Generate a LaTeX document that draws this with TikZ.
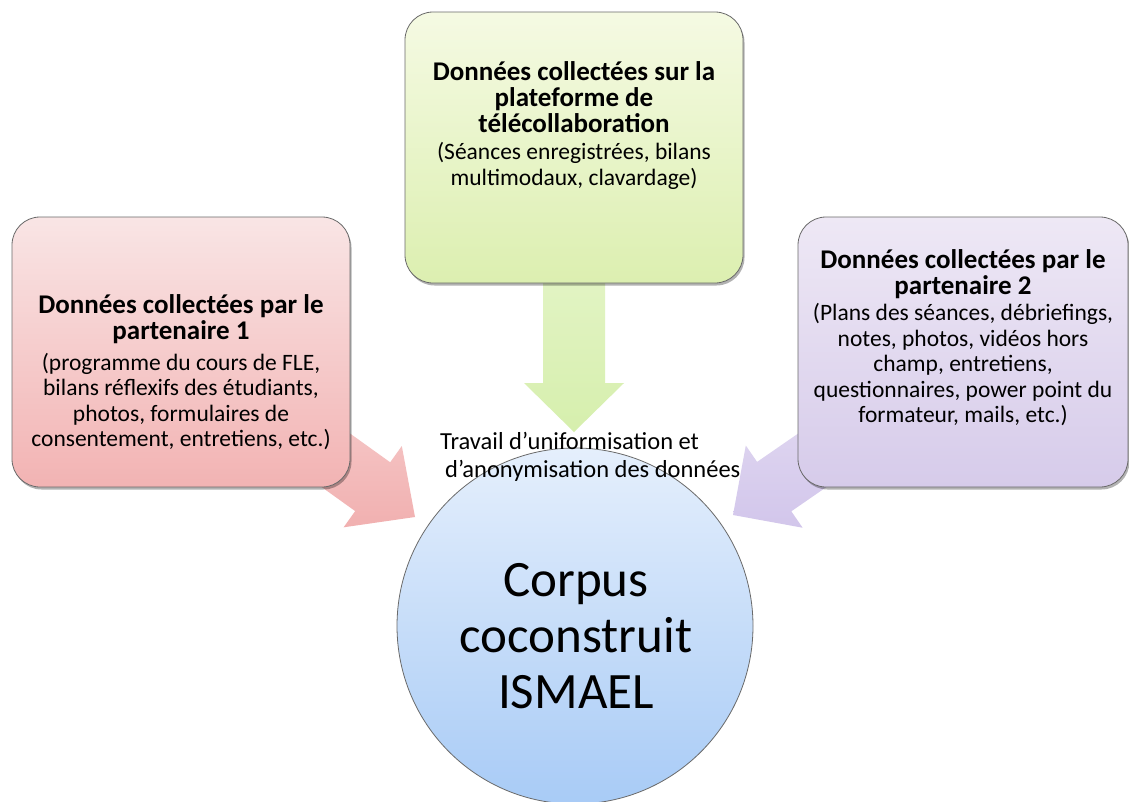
\documentclass[tikz,border=0pt]{standalone}
\usepackage{fontspec}
\setmainfont{Carlito}
\usetikzlibrary{shadows}
\definecolor{redTop}{HTML}{F9E5E5}
\definecolor{redBot}{HTML}{F2B3B3}
\definecolor{redArrTop}{HTML}{F7CFCF}
\definecolor{redArrBot}{HTML}{F1B0B0}
\definecolor{grnTop}{HTML}{F5FAE3}
\definecolor{grnBot}{HTML}{DCEFB0}
\definecolor{grnArrTop}{HTML}{E8F6CF}
\definecolor{grnArrBot}{HTML}{D6EFAD}
\definecolor{purTop}{HTML}{EEE8F5}
\definecolor{purBot}{HTML}{D6CBEA}
\definecolor{purArrTop}{HTML}{E4DCF2}
\definecolor{purArrBot}{HTML}{D2C6EB}
\definecolor{cirTop}{HTML}{E5EFFC}
\definecolor{cirBot}{HTML}{A8CBF6}
\definecolor{edge}{HTML}{6A6A6A}
\tikzset{
  box/.style={draw=edge, line width=0.8pt, rounded corners=28pt, inner sep=0pt, outer sep=0pt,
    drop shadow={shadow xshift=1.5pt, shadow yshift=-2.5pt, opacity=0.3, fill=black}},
  ttl/.style={inner sep=0pt, align=center, font=\bfseries\fontsize{27}{26}\selectfont},
  body/.style={inner sep=0pt, align=center, font=\fontsize{23.5}{25.5}\selectfont},
}
\begin{document}
\begin{tikzpicture}[x=1pt, y=-1pt]
\useasboundingbox (0,0) rectangle (1129,801);
\fill[white] (0,0) rectangle (1129,801);
% block arrows
\shade[top color=redArrTop, bottom color=redArrBot]
  (268.2,374.8) -- (390.2,462.3) -- (401.8,446.0) -- (415,517) -- (343.6,527.3)
  -- (355.2,511.1) -- (233.2,423.6) -- cycle;
\shade[top color=purArrTop, bottom color=purArrBot]
  (880.5,376.6) -- (757.1,461.9) -- (745.8,445.5) -- (733,515) -- (802.6,527.7)
  -- (791.3,511.3) -- (914.7,426.0) -- cycle;
\shade[top color=grnArrTop, bottom color=grnArrBot]
  (543,200) -- (543,383) -- (524,383) -- (574,432) -- (624,383) -- (605,383) -- (605,200) -- cycle;
% boxes
\node[box, minimum width=338pt, minimum height=270pt, top color=redTop, bottom color=redBot] (p1) at (181,352) {};
\node[box, minimum width=338pt, minimum height=271pt, top color=grnTop, bottom color=grnBot] (pf) at (574,147.5) {};
\node[box, minimum width=330pt, minimum height=270pt, top color=purTop, bottom color=purBot] (p2) at (963,352) {};
% circle
\node[circle, draw=edge, line width=0.8pt, minimum size=356pt, inner sep=0pt,
  top color=cirTop, bottom color=cirBot] (corpus) at (575,626) {};
% texts
\node[ttl] (p1t) at (181,319.5) {Données collectées par le\\partenaire 1};
\node[body] (p1b) at (181,401.5) {(programme du cours de FLE,\\bilans réflexifs des étudiants,\\photos, formulaires de\\consentement, entretiens, etc.)};
\node[ttl] (pft) at (574,97.5) {Données collectées sur la\\plateforme de\\télécollaboration};
\node[body] (pfb) at (574,166) {(Séances enregistrées, bilans\\multimodaux, clavardage)};
\node[ttl] (p2t) at (963,274) {Données collectées par le\\partenaire 2};
\node[body] (p2b) at (963,365) {(Plans des séances, débriefings,\\notes, photos, vidéos hors\\champ, entretiens,\\questionnaires, power point du\\formateur, mails, etc.)};
\node[inner sep=0pt, align=left, anchor=west, font=\fontsize{24.5}{28}\selectfont] (lbl) at (440,457)
  {Travail d’uniformisation et\\\hspace*{5pt}d’anonymisation des données};
\node[inner sep=0pt, align=center, font=\fontsize{51}{56}\selectfont] (ct) at (576,636) {Corpus\\coconstruit\\ISMAEL};
\end{tikzpicture}
\end{document}
